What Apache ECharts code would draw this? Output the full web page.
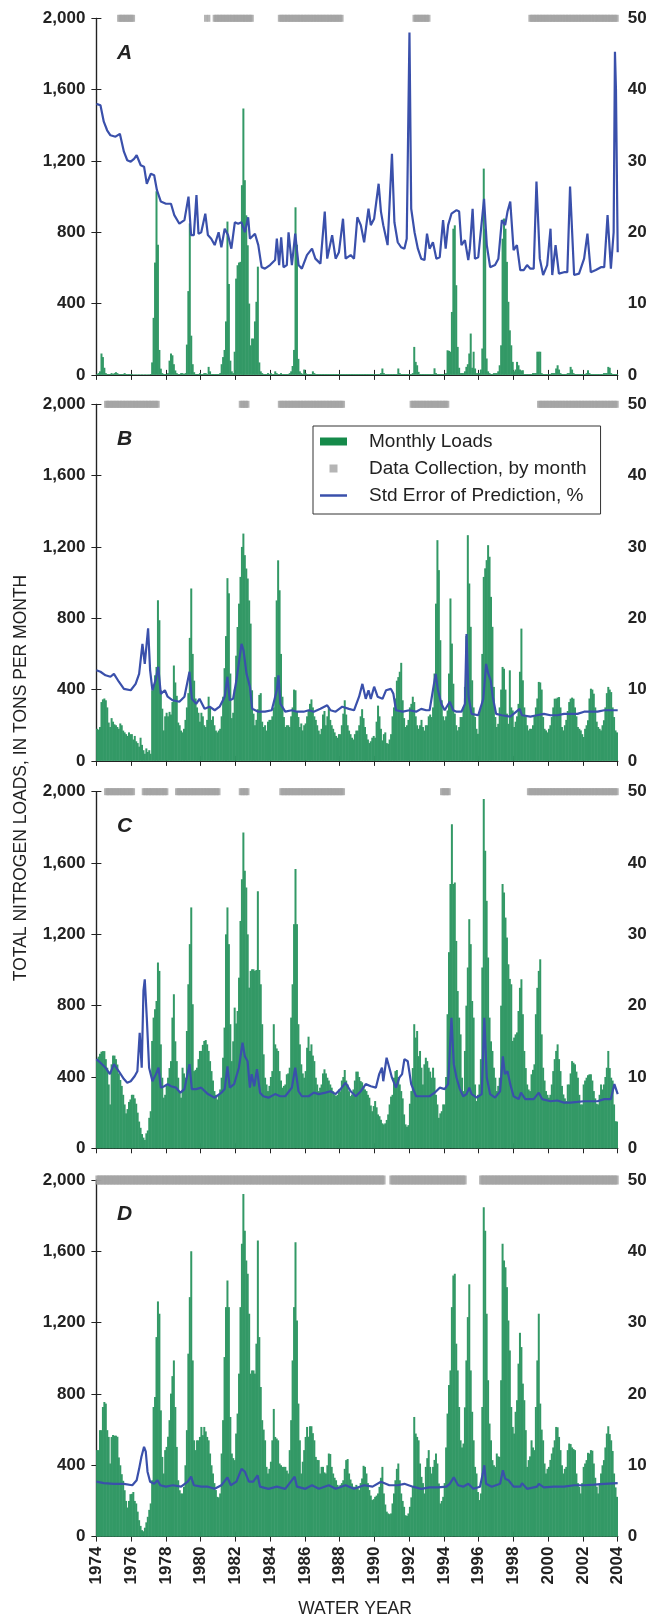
<!DOCTYPE html>
<html>
<head>
<meta charset="utf-8">
<script src="https://cdn.jsdelivr.net/npm/echarts@6/dist/echarts.min.js"></script>
<style>
html, body { margin: 0; padding: 0; background: #fff; }
#chart { width: 652px; height: 1621px; }
</style>
</head>
<body>
<div id="chart"></div>
<script>
// months counted from the start of water year 1974, one row per year
const startYear = 1974;

const loadsA = [
  5, 10, 20, 120, 100, 40, 10, 5, 5, 5, 10, 5,
  10, 15, 10, 5, 5, 5, 5, 10, 5, 5, 5, 5,
  5, 3, 3, 3, 3, 3, 3, 3, 3, 3, 3, 3,
  3, 5, 70, 320, 630, 1030, 730, 140, 35, 10, 5, 5,
  5, 10, 80, 120, 110, 60, 25, 10, 5, 5, 10, 10,
  5, 10, 170, 470, 850, 220, 60, 15, 5, 5, 5, 10,
  5, 5, 10, 10, 5, 45, 20, 5, 5, 5, 5, 5,
  5, 10, 60, 100, 140, 300, 860, 510, 80, 20, 10, 130,
  540, 615, 630, 634, 1064, 1494, 1092, 895, 727, 400, 166, 204,
  204, 300, 410, 607, 70, 20, 10, 5, 5, 5, 10, 5,
  10, 5, 5, 20, 10, 5, 5, 10, 5, 5, 5, 5,
  5, 10, 20, 50, 140, 940, 730, 90, 20, 10, 5, 30,
  10, 5, 5, 5, 5, 20, 10, 5, 5, 5, 5, 5,
  5, 5, 5, 5, 5, 5, 5, 5, 5, 5, 5, 5,
  5, 5, 5, 5, 5, 5, 5, 5, 5, 5, 5, 5,
  5, 5, 5, 5, 5, 5, 5, 5, 5, 5, 5, 5,
  5, 5, 5, 5, 10, 36, 10, 5, 5, 5, 5, 5,
  5, 5, 5, 5, 36, 10, 5, 5, 5, 5, 5, 5,
  5, 5, 10, 157, 73, 54, 17, 5, 5, 5, 5, 5,
  5, 5, 5, 5, 5, 37, 10, 5, 5, 5, 5, 5,
  5, 10, 138, 135, 130, 353, 820, 839, 503, 157, 40, 10,
  10, 10, 20, 45, 60, 120, 232, 40, 130, 36, 10, 10,
  10, 30, 148, 1157, 820, 92, 20, 10, 5, 5, 10, 10,
  10, 20, 54, 166, 764, 877, 820, 634, 410, 250, 166, 73,
  20, 30, 73, 54, 30, 25, 26, 5, 5, 5, 5, 5,
  5, 10, 10, 10, 130, 130, 130, 10, 5, 5, 5, 5,
  5, 5, 10, 10, 10, 36, 54, 30, 10, 5, 5, 5,
  5, 10, 10, 45, 30, 10, 5, 5, 5, 5, 5, 5,
  5, 5, 10, 26, 10, 5, 5, 5, 5, 5, 5, 5,
  5, 5, 10, 10, 10, 45, 40, 10, 5, 5, 5, 5
];

const loadsB = [
  180, 175, 190, 330, 345, 350, 340, 300, 215, 190, 240, 220,
  205, 200, 190, 180, 210, 200, 170, 160, 150, 140, 160, 150,
  150, 120, 140, 110, 100, 80, 130, 90, 60, 40, 70, 50,
  60, 40, 396, 424, 480, 527, 901, 789, 396, 293, 171, 250,
  270, 250, 275, 260, 330, 535, 440, 365, 215, 200, 170, 160,
  180, 230, 300, 380, 690, 967, 600, 450, 350, 300, 270, 220,
  270, 250, 200, 190, 230, 360, 300, 230, 250, 200, 170, 160,
  170, 180, 250, 360, 520, 700, 1025, 940, 490, 240, 270, 400,
  590, 751, 882, 1032, 1200, 1275, 1154, 1079, 1023, 900, 770, 396,
  265, 200, 230, 290, 370, 380, 220, 190, 200, 170, 220, 230,
  230, 250, 300, 470, 900, 1125, 957, 600, 360, 246, 190, 200,
  200, 190, 250, 300, 400, 396, 280, 246, 190, 210, 171, 200,
  210, 250, 280, 320, 345, 300, 250, 230, 200, 170, 150, 180,
  260, 280, 200, 250, 300, 230, 200, 180, 160, 140, 130, 150,
  150, 200, 265, 340, 260, 200, 170, 150, 130, 120, 150, 170,
  170, 200, 250, 290, 240, 190, 150, 120, 100, 110, 130, 140,
  130, 220, 310, 250, 180, 115, 150, 160, 100, 96, 120, 150,
  250, 300, 350, 450, 470, 500, 550, 340, 240, 190, 200, 230,
  300, 320, 360, 330, 250, 200, 180, 200, 230, 190, 170, 200,
  200, 250, 260, 246, 300, 490, 882, 1238, 1070, 677, 340, 250,
  228, 250, 283, 490, 911, 658, 433, 265, 200, 171, 190, 246,
  246, 300, 415, 700, 1266, 995, 752, 452, 300, 246, 180, 152,
  265, 300, 600, 1032, 1080, 1126, 1210, 1145, 920, 752, 415, 246,
  190, 208, 300, 400, 527, 517, 400, 265, 208, 508, 300, 283,
  190, 220, 250, 320, 500, 742, 452, 300, 246, 200, 171, 180,
  180, 200, 250, 300, 350, 443, 440, 400, 246, 180, 171, 160,
  180, 200, 246, 300, 349, 349, 355, 358, 300, 190, 171, 200,
  230, 280, 330, 349, 355, 349, 300, 250, 190, 180, 171, 150,
  134, 180, 200, 228, 350, 405, 400, 377, 300, 220, 190, 180,
  171, 200, 228, 300, 380, 415, 400, 386, 300, 246, 171, 160
];

const loadsC = [
  500, 514, 530, 542, 545, 545, 500, 452, 358, 246, 471, 520,
  520, 500, 470, 420, 383, 350, 300, 246, 196, 220, 260, 274,
  300, 300, 280, 250, 200, 150, 115, 80, 60, 47, 84, 100,
  171, 208, 602, 733, 780, 826, 1042, 995, 583, 396, 284, 300,
  350, 396, 450, 489, 733, 864, 600, 489, 396, 320, 284, 452,
  420, 396, 658, 920, 1145, 1351, 808, 433, 440, 452, 500, 546,
  546, 580, 602, 607, 583, 546, 489, 433, 380, 321, 300, 274,
  300, 330, 396, 508, 677, 1200, 1351, 1145, 696, 489, 600, 789,
  700, 770, 957, 1275, 1509, 1771, 1556, 1463, 1200, 901, 995, 1004,
  1004, 995, 1000, 1441, 1000, 920, 696, 527, 396, 358, 321, 350,
  400, 433, 696, 583, 560, 546, 433, 380, 340, 350, 358, 415,
  420, 452, 733, 920, 1257, 1566, 1257, 696, 583, 471, 420, 396,
  433, 564, 626, 546, 583, 520, 489, 396, 358, 321, 340, 358,
  420, 443, 420, 396, 380, 358, 340, 320, 302, 293, 300, 330,
  320, 380, 400, 439, 380, 358, 320, 293, 302, 330, 380, 430,
  430, 400, 377, 370, 349, 330, 321, 300, 284, 240, 208, 237,
  265, 230, 190, 180, 160, 140, 134, 140, 159, 190, 246, 290,
  300, 396, 433, 439, 400, 358, 321, 280, 190, 134, 121, 130,
  250, 321, 450, 696, 621, 658, 517, 546, 452, 358, 471, 508,
  489, 452, 430, 396, 452, 396, 300, 246, 171, 196, 208, 246,
  246, 400, 752, 1100, 1482, 1818, 1482, 1491, 1163, 882, 733, 639,
  396, 321, 546, 800, 1014, 1285, 1145, 826, 733, 358, 265, 300,
  358, 500, 1014, 1959, 1669, 1388, 1070, 733, 600, 546, 452, 396,
  321, 350, 396, 800, 1482, 1435, 1294, 1182, 1032, 950, 920, 602,
  621, 639, 650, 770, 900, 948, 752, 546, 450, 358, 330, 321,
  415, 440, 471, 752, 900, 995, 1060, 639, 452, 380, 321, 300,
  284, 300, 358, 433, 500, 546, 583, 500, 433, 350, 302, 280,
  265, 358, 358, 420, 489, 480, 471, 430, 396, 300, 246, 246,
  358, 380, 396, 410, 415, 415, 380, 321, 280, 250, 246, 300,
  358, 330, 358, 400, 452, 546, 450, 396, 380, 246, 152, 150
];

const loadsD = [
  485, 485, 597, 597, 727, 755, 746, 597, 559, 410, 559, 570,
  566, 566, 560, 444, 400, 350, 313, 260, 200, 163, 200, 238,
  240, 250, 200, 186, 140, 92, 60, 36, 30, 50, 80, 111,
  150, 186, 316, 727, 783, 1119, 1319, 1250, 708, 447, 354, 485,
  503, 560, 653, 802, 900, 988, 727, 503, 316, 260, 242, 242,
  279, 400, 597, 1026, 1343, 1600, 988, 540, 485, 540, 540, 559,
  615, 569, 615, 590, 559, 540, 466, 400, 354, 300, 261, 223,
  220, 242, 466, 653, 1007, 1287, 1437, 1287, 671, 466, 440, 429,
  578, 690, 914, 1287, 1642, 1922, 1716, 1548, 1474, 1250, 914, 932,
  932, 914, 1082, 1660, 1119, 839, 653, 600, 540, 391, 354, 380,
  420, 540, 716, 559, 550, 540, 410, 400, 391, 391, 391, 370,
  354, 485, 653, 988, 1287, 1651, 1212, 746, 540, 354, 420, 485,
  559, 615, 560, 619, 619, 580, 540, 447, 430, 429, 354, 391,
  391, 360, 354, 400, 466, 463, 391, 354, 330, 316, 290, 279,
  290, 300, 316, 380, 429, 435, 354, 320, 298, 280, 279, 290,
  280, 261, 300, 326, 397, 391, 354, 300, 261, 230, 205, 210,
  223, 230, 242, 279, 330, 391, 242, 180, 140, 130, 126, 130,
  186, 242, 316, 380, 410, 316, 242, 200, 167, 120, 116, 130,
  167, 220, 279, 671, 578, 559, 540, 410, 335, 300, 242, 391,
  440, 485, 391, 354, 391, 430, 466, 410, 298, 186, 200, 223,
  300, 500, 690, 850, 932, 1287, 1464, 1474, 1082, 932, 727, 540,
  500, 522, 725, 988, 1231, 1415, 932, 700, 540, 391, 354, 250,
  205, 242, 727, 1847, 1716, 1250, 877, 634, 540, 429, 400, 391,
  466, 450, 447, 877, 1642, 1548, 1511, 1399, 1212, 1044, 727, 615,
  578, 700, 765, 970, 1143, 1063, 858, 765, 597, 391, 429, 450,
  540, 500, 485, 727, 988, 1250, 746, 600, 540, 410, 354, 380,
  391, 430, 466, 500, 540, 615, 613, 559, 485, 400, 354, 380,
  391, 485, 522, 519, 500, 491, 485, 354, 300, 279, 242, 300,
  391, 410, 429, 470, 466, 485, 482, 410, 330, 280, 242, 300,
  354, 400, 429, 500, 578, 619, 575, 540, 480, 354, 276, 223
];

// std error of prediction, % : [month, value] at the line's turning points
const stdErrA = [
  [0,38.0],[2.8,37.8],[5.1,35.5],[7.4,34.3],[9.7,33.6],[13.2,33.4],[16.2,33.8],[19.0,31.3],[21.3,30.1],[23.7,29.9],
  [26.0,30.3],[27.8,30.8],[30.6,29.4],[32.9,29.2],[34.8,26.8],[37.6,28.2],[39.9,28.0],[41.8,25.9],[44.5,24.3],[48.0,24.0],
  [51.5,24.0],[53.8,22.4],[57.3,21.2],[60.8,21.7],[63.6,25.0],[65.4,19.6],[67.3,19.6],[69.1,25.2],[70.5,19.8],[72.4,20.0],
  [75.2,22.6],[77.0,19.6],[79.3,19.1],[81.7,18.2],[84.4,20.0],[86.3,17.9],[88.6,20.5],[90.9,19.6],[93.2,17.7],[95.6,21.4],
  [97.9,21.2],[100.2,21.4],[102.5,20.0],[104.8,22.1],[106.0,19.1],[109.5,19.8],[111.8,18.2],[114.1,15.1],[116.4,14.9],[119.9,15.4],
  [123.4,16.1],[124.6,19.1],[126.2,15.4],[127.6,19.3],[129.2,15.1],[131.5,15.4],[132.7,20.0],[135.0,15.4],[137.3,19.8],[139.6,15.4],
  [141.9,14.9],[145.4,16.8],[148.9,17.7],[151.2,16.3],[154.7,15.6],[157.7,22.9],[159.4,16.3],[162.8,19.6],[165.2,16.3],[167.5,17.2],
  [170.3,21.9],[172.1,16.3],[175.6,16.8],[177.9,16.3],[180.2,22.1],[182.6,21.0],[184.9,18.6],[187.9,23.3],[189.5,21.0],[191.8,21.9],
  [194.9,26.8],[196.5,22.9],[198.1,21.0],[201.1,18.2],[204.1,31.0],[205.8,21.4],[208.1,18.6],[210.4,17.9],[212.7,17.7],[214.3,19.1],
  [216.2,48.0],[217.4,23.3],[219.7,20.0],[222.0,17.7],[224.3,16.3],[226.6,16.1],[228.3,19.8],[230.1,17.7],[232.4,18.6],[234.8,16.3],
  [237.1,16.5],[239.4,21.7],[241.2,17.7],[242.9,21.0],[245.2,22.6],[246.4,22.4],[248.7,23.1],[250.5,22.9],[252.1,18.2],[254.5,18.9],
  [256.8,16.1],[257.9,17.7],[259.8,23.3],[261.4,16.3],[263.7,16.5],[267.7,24.7],[269.6,18.2],[271.9,15.1],[275.3,15.4],[277.6,16.3],
  [280.0,21.7],[282.3,21.0],[283.9,22.9],[285.8,24.3],[288.1,17.5],[290.4,18.2],[292.7,14.7],[295.1,14.7],[297.4,15.4],[299.7,14.9],
  [302.0,14.9],[303.9,27.1],[306.2,16.3],[308.5,14.0],[311.3,15.4],[313.6,20.5],[314.8,14.0],[317.1,18.2],[319.4,14.2],[322.9,14.4],
  [325.2,14.4],[327.1,26.4],[329.9,14.0],[333.3,14.2],[336.8,16.3],[339.1,19.8],[341.4,14.4],[344.9,14.7],[348.4,15.1],[350.7,15.1],
  [353.0,22.4],[355.3,14.9],[357.2,20.0],[358.1,45.3],[358.8,40.1],[360,17.2]
];

const stdErrB = [
  [0,12.7],[2.8,12.5],[6.3,12.0],[9.7,11.8],[12.1,12.2],[15.5,11.1],[19.0,10.1],[23.7,9.9],[27.1,10.8],[29.5,12.2],
  [31.8,16.4],[33.4,13.6],[35.7,18.6],[37.1,12.7],[38.7,9.9],[41.1,11.5],[42.7,13.2],[44.5,9.4],[47.3,9.9],[49.2,9.0],
  [52.7,8.5],[57.3,8.3],[60.8,9.0],[64.3,12.5],[65.9,8.7],[68.9,8.0],[71.2,8.7],[74.7,7.3],[78.2,7.6],[81.7,7.1],
  [85.1,7.6],[88.6,9.0],[90.5,11.8],[92.1,8.5],[94.4,8.7],[96.7,11.3],[100.2,16.4],[101.6,15.5],[103.7,12.2],[106.0,10.4],
  [107.6,7.3],[111.8,6.9],[116.4,6.9],[121.1,7.1],[124.6,9.9],[125.7,12.0],[127.1,8.0],[130.4,6.9],[135.0,7.1],[138.5,6.9],
  [143.1,6.9],[146.6,7.1],[150.1,6.9],[154.7,7.3],[159.4,7.8],[161.7,7.1],[165.2,6.9],[169.8,7.6],[174.4,7.3],[177.9,7.1],
  [181.4,9.0],[183.7,10.8],[186.0,8.7],[187.9,9.9],[189.5,8.7],[191.8,10.4],[194.2,9.0],[197.6,8.7],[200.0,9.9],[203.4,10.1],
  [205.1,9.4],[206.9,7.1],[211.6,6.9],[216.2,7.1],[220.8,6.9],[224.3,7.3],[227.8,7.1],[230.1,7.1],[232.4,9.9],[234.3,12.2],
  [235.9,9.9],[238.2,8.0],[240.5,7.1],[244.0,8.3],[246.4,7.1],[248.7,6.9],[252.1,6.9],[254.5,8.0],[255.6,17.8],[257.0,9.0],
  [259.1,6.6],[263.7,6.4],[267.2,8.7],[269.1,13.6],[270.7,12.2],[272.3,11.3],[273.7,9.0],[276.0,6.6],[280.0,6.4],[285.8,6.2],
  [292.3,7.3],[293.9,6.4],[299.7,6.2],[304.3,6.4],[309.0,6.6],[313.6,6.4],[318.3,6.4],[322.9,6.6],[327.5,6.6],[332.2,6.6],
  [336.8,6.9],[341.4,6.9],[346.1,6.9],[350.7,7.1],[355.3,7.1],[360,7.1]
];

const stdErrC = [
  [0,12.5],[2.8,12.0],[6.3,11.3],[9.3,10.4],[12.1,11.8],[15.5,10.8],[19.0,9.7],[21.3,9.2],[23.7,9.4],[26.4,10.1],
  [28.3,10.8],[29.9,16.2],[31.3,11.3],[32.5,22.1],[33.4,23.7],[34.8,18.3],[36.4,11.3],[38.7,9.4],[41.1,10.4],[42.9,11.3],
  [44.5,8.5],[46.9,8.7],[49.2,9.0],[51.5,8.7],[55.0,8.5],[58.0,7.8],[60.8,8.3],[64.3,11.8],[65.9,8.3],[68.9,8.3],
  [72.4,8.5],[77.0,7.6],[81.7,7.1],[86.3,7.8],[88.6,8.3],[90.5,11.5],[92.1,8.5],[95.1,9.0],[98.4,11.3],[100.9,14.8],
  [102.5,12.9],[104.4,12.2],[106.0,8.5],[107.2,10.4],[109.0,8.7],[110.9,11.1],[113.0,7.8],[115.3,7.3],[118.8,7.1],[123.4,7.6],
  [126.9,7.3],[130.4,7.3],[135.0,8.5],[137.3,11.3],[139.6,8.0],[141.9,7.3],[146.6,7.3],[150.1,7.8],[153.6,7.6],[158.2,7.8],
  [161.7,8.0],[165.2,7.6],[168.6,8.3],[172.1,9.2],[175.6,8.0],[179.1,7.3],[182.6,8.0],[186.0,9.0],[189.5,8.7],[193.0,8.5],
  [195.3,10.4],[197.2,11.3],[198.1,9.4],[200.4,12.7],[202.3,11.3],[204.1,9.9],[206.9,8.5],[209.2,9.9],[211.1,10.4],[212.7,12.5],
  [215.0,12.2],[217.4,9.0],[220.8,7.3],[225.5,7.3],[230.1,7.3],[233.6,7.8],[237.1,8.5],[240.5,8.3],[242.9,9.0],[245.2,18.3],
  [246.8,11.8],[248.7,9.9],[251.0,8.3],[253.3,7.3],[255.6,7.6],[257.5,8.5],[259.1,7.6],[262.6,7.1],[266.1,7.6],[267.9,18.3],
  [269.6,9.9],[271.9,7.6],[275.3,7.1],[278.8,8.0],[280.7,12.9],[282.1,10.4],[283.9,10.8],[285.8,9.0],[288.1,7.3],[291.6,6.9],
  [293.2,7.8],[296.2,6.9],[302.0,6.9],[305.5,7.8],[307.8,6.9],[313.6,6.6],[318.3,6.7],[322.9,6.4],[327.5,6.4],[332.2,6.5],
  [336.8,6.6],[341.4,6.6],[346.1,6.6],[350.7,6.9],[355.3,6.9],[357.7,9.0],[360,7.6]
];

const stdErrD = [
  [0,7.7],[5.1,7.5],[12.1,7.4],[19.0,7.4],[24.8,7.2],[27.8,7.9],[29.5,9.5],[31.1,11.2],[32.9,12.6],[34.1,11.9],
  [35.3,9.1],[37.1,7.7],[39.9,7.4],[42.2,7.9],[44.1,7.2],[48.0,7.0],[52.7,7.2],[58.5,7.0],[63.1,7.7],[65.4,8.4],
  [67.3,7.2],[72.4,7.0],[77.0,7.0],[81.7,6.7],[86.3,7.2],[90.5,8.3],[92.8,7.2],[96.7,7.7],[100.2,9.5],[102.5,9.1],
  [105.3,7.7],[108.3,7.7],[111.3,8.6],[113.0,7.0],[118.8,6.7],[124.6,7.0],[130.4,6.7],[136.9,8.4],[138.5,7.0],[144.3,6.7],
  [148.9,7.2],[153.6,6.7],[160.5,7.2],[165.2,6.7],[172.1,7.2],[177.9,6.7],[184.9,7.2],[190.7,7.0],[196.5,7.7],[202.3,7.2],
  [208.1,7.2],[212.7,7.4],[218.5,7.0],[224.3,6.7],[230.1,6.9],[235.9,6.9],[241.7,7.0],[244.0,7.4],[246.8,8.3],[249.8,7.2],
  [253.3,7.0],[256.8,7.4],[260.3,6.7],[264.9,7.0],[266.8,8.8],[267.9,10.0],[269.1,7.4],[273.0,7.0],[278.8,7.4],[280.7,9.3],
  [282.3,8.1],[284.6,7.9],[288.1,7.0],[292.7,7.0],[293.9,7.5],[297.4,6.7],[304.3,7.0],[305.5,7.4],[309.0,6.9],[315.9,7.0],
  [322.9,7.0],[329.9,7.2],[336.8,7.2],[343.8,7.3],[350.7,7.4],[360,7.5]
];

// months with data collection: [first, last] inclusive
const collectedA = [[15, 25], [75, 75], [77, 77], [81, 107], [126, 169], [219, 229], [299, 359]];
const collectedB = [[6, 42], [99, 104], [126, 170], [217, 242], [305, 359]];
const collectedC = [[6, 25], [32, 48], [55, 84], [99, 104], [127, 170], [238, 243], [298, 359]];
const collectedD = [[0, 198], [203, 254], [265, 359]];

const panelLetters = ["A", "B", "C", "D"];

const panels = [
  { loads: loadsA, stdErr: stdErrA, collected: collectedA },
  { loads: loadsB, stdErr: stdErrB, collected: collectedB },
  { loads: loadsC, stdErr: stdErrC, collected: collectedC },
  { loads: loadsD, stdErr: stdErrD, collected: collectedD },
];

const fontFamily = "'Liberation Sans', Arial, sans-serif";
const ink = "#222";
const green = "#339966";
const blue = "#3a50ab";
const grey = "#a3a3a3";

const panelTops = [18.3, 404.3, 791.7, 1180];
const panelHeight = 356.6;
const plotLeft = 96.4;
const plotWidth = 521.3;

const chart = echarts.init(document.getElementById("chart"), null, { renderer: "canvas" });

const grid = [];
const xAxis = [];
const yAxis = [];
const series = [];
const title = [];

const tickStyle = { show: true, inside: true, length: 5, lineStyle: { color: ink, width: 1 } };
const lineStyle = { show: true, lineStyle: { color: ink, width: 1.2 } };
const labelStyle = { color: ink, fontFamily: fontFamily, fontSize: 17, fontWeight: "bold" };

panels.forEach((p, i) => {
  const isLast = i === panels.length - 1;
  grid.push({ left: plotLeft, width: plotWidth, top: panelTops[i], height: panelHeight });

  xAxis.push({
    type: "value", gridIndex: i, position: "bottom", min: 0, max: 360, interval: 24,
    axisLine: lineStyle, axisTick: tickStyle, splitLine: { show: false },
    axisLabel: Object.assign({}, labelStyle, {
      show: isLast, rotate: 90, margin: 10,
      formatter: (v) => String(startYear + v / 12),
    }),
  });
  xAxis.push({
    type: "value", gridIndex: i, position: "top", min: 0, max: 360, interval: 24,
    axisLine: lineStyle, axisTick: tickStyle, splitLine: { show: false },
    axisLabel: { show: false },
  });

  yAxis.push({
    type: "value", gridIndex: i, position: "left", min: 0, max: 2000, interval: 400,
    axisLine: lineStyle, axisTick: tickStyle, splitLine: { show: false },
    axisLabel: Object.assign({}, labelStyle, {
      margin: 11,
      formatter: (v) => v.toLocaleString("en-US"),
    }),
  });
  yAxis.push({
    type: "value", gridIndex: i, position: "right", min: 0, max: 50, interval: 10,
    axisLine: lineStyle, axisTick: tickStyle, splitLine: { show: false },
    axisLabel: Object.assign({}, labelStyle, { margin: 10 }),
  });

  series.push({
    name: "Monthly Loads",
    type: "bar",
    xAxisIndex: 2 * i,
    yAxisIndex: 2 * i,
    barWidth: 2,
    itemStyle: { color: green },
    data: p.loads.map((v, k) => [k + 0.5, v]),
    z: 2,
  });

  series.push({
    name: "Std Error of Prediction, %",
    type: "line",
    xAxisIndex: 2 * i,
    yAxisIndex: 2 * i + 1,
    showSymbol: false,
    lineStyle: { color: blue, width: 2.2 },
    itemStyle: { color: blue },
    data: p.stdErr,
    z: 3,
  });

  const marks = [];
  p.collected.forEach(([a, b]) => {
    for (let k = a; k <= b; k++) marks.push([k + 0.5, 2000]);
  });
  series.push({
    name: "Data Collection, by month",
    type: "scatter",
    xAxisIndex: 2 * i,
    yAxisIndex: 2 * i,
    symbol: "rect",
    symbolSize: isLast ? [3.5, 9] : [3.5, 7],
    itemStyle: { color: grey },
    clip: false,
    silent: true,
    data: marks,
    z: 5,
  });

  title.push({
    text: panelLetters[i],
    left: 112,
    top: panelTops[i] + 19,
    textStyle: { fontFamily: fontFamily, fontSize: 21, fontWeight: "bold", fontStyle: "italic", color: ink },
  });
});

chart.setOption({
  animation: false,
  backgroundColor: "#fff",
  title: title,
  grid: grid,
  xAxis: xAxis,
  yAxis: yAxis,
  series: series,
  legend: {
    left: 313,
    top: 426,
    orient: "vertical",
    padding: [2, 14, 5, 7],
    itemGap: 0,
    itemWidth: 27,
    itemHeight: 8,
    borderColor: "#333",
    borderWidth: 1,
    backgroundColor: "#fff",
    selectedMode: false,
    textStyle: { fontFamily: fontFamily, fontSize: 19, color: ink, lineHeight: 27, padding: [0, 0, 0, 17] },
    data: [
      { name: "Monthly Loads", icon: "rect", itemStyle: { color: "#158a4a" } },
      { name: "Data Collection, by month", icon: "path://M0,0H1V1H0Z", itemStyle: { color: grey } },
      { name: "Std Error of Prediction, %", icon: "path://M0,0H27V2.5H0Z", itemStyle: { color: blue } },
    ],
  },
  graphic: [
    {
      type: "text",
      x: 21,
      y: 778,
      rotation: Math.PI / 2,
      style: {
        text: "TOTAL NITROGEN LOADS, IN TONS PER MONTH",
        fontFamily: fontFamily, fontSize: 17.5, fill: ink,
        align: "center", verticalAlign: "middle",
      },
    },
    {
      type: "text",
      x: plotLeft + plotWidth / 2 - 2,
      y: 1609,
      style: {
        text: "WATER YEAR",
        fontFamily: fontFamily, fontSize: 17.5, fill: ink,
        align: "center", verticalAlign: "middle",
      },
    },
  ],
});
</script>
</body>
</html>
